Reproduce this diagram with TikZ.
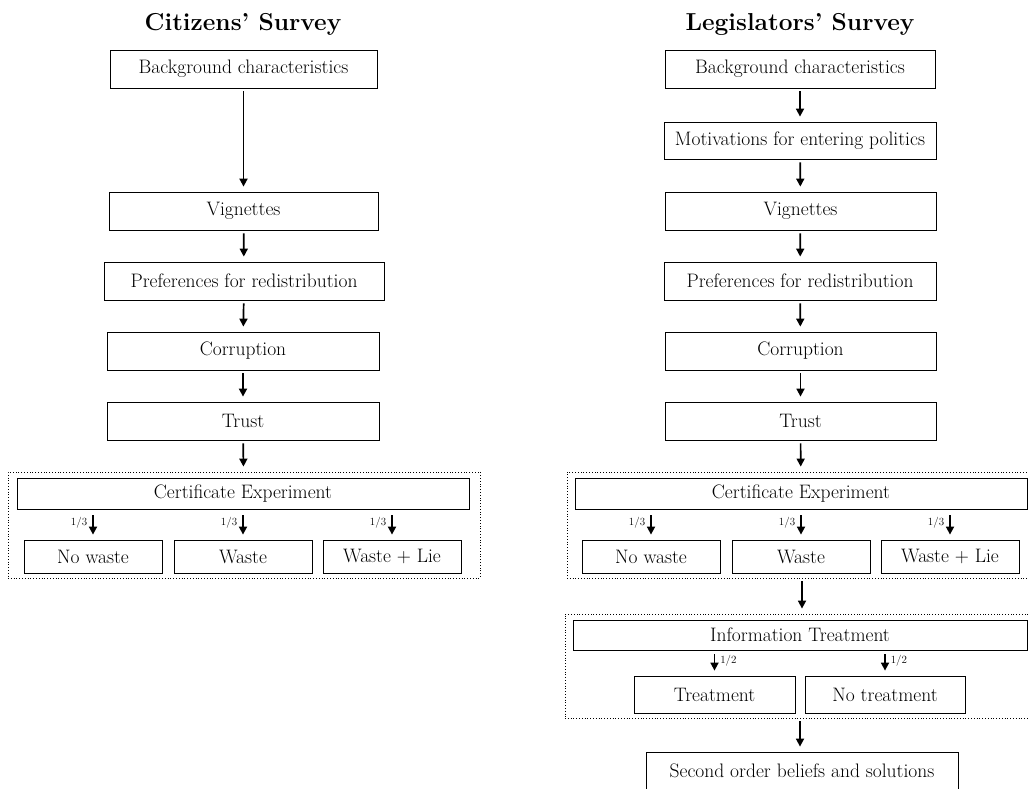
\documentclass[tikz,border=0pt]{standalone}
\usetikzlibrary{arrows.meta}
\begin{document}
\begin{tikzpicture}[x=1pt,y=-1pt,
  box/.style={draw,line width=0.8pt,minimum height=38pt,inner sep=0pt,font=\fontsize{19.5}{22}\selectfont},
  sbox/.style={box,minimum width=138pt,minimum height=33pt},
  dotbox/.style={draw,dotted,line width=0.8pt,inner sep=0pt},
  title/.style={font=\fontsize{24.5}{28}\selectfont\bfseries},
  arr/.style={-{Triangle[length=8pt,width=8pt]},line width=1.7pt,shorten <=3pt,shorten >=5pt},
  frac/.style={font=\fontsize{11}{12}\selectfont,inner sep=5pt}]
\useasboundingbox (0,0) rectangle (1029,788);
\clip (0,0) rectangle (1029,788);
% ---- left column
\node[title] (tL) at (243,24) {Citizens' Survey};
\node[box,minimum width=267pt] (bgL) at (243.5,69) {Background characteristics};
\node[box,minimum width=269pt] (vigL) at (243.5,211) {Vignettes};
\node[box,minimum width=280pt] (prefL) at (244,281) {Preferences for redistribution};
\node[box,minimum width=272pt] (corL) at (243,351) {Corruption};
\node[box,minimum width=272pt] (trL) at (243,421) {Trust};
\node[dotbox,minimum width=472pt,minimum height=106pt] (dL) at (244,525) {};
\node[box,minimum width=452pt,minimum height=31pt] (certL) at (243,493.5) {Certificate Experiment};
\node[sbox] (nwL) at (93,556.5) {No waste};
\node[sbox] (wL) at (243,556.5) {Waste};
\node[sbox] (wlL) at (392,556.5) {Waste + Lie};
\draw[arr] (bgL) -- (vigL);
\draw[arr] (vigL) -- (prefL);
\draw[arr] (prefL) -- (corL);
\draw[arr] (corL) -- (trL);
\draw[arr] (trL) -- (dL);
\foreach \n in {nwL,wL,wlL}{
  \draw[arr,shorten <=6pt] (certL.south -| \n.north) -- (\n.north)
    node[frac,pos=0.45,anchor=east] {1/3};
}
% ---- right column
\node[title] (tR) at (800,24) {Legislators' Survey};
\node[box,minimum width=270pt] (bgR) at (800,69) {Background characteristics};
\node[box,minimum width=272pt,minimum height=37pt] (motR) at (800,140.5) {Motivations for entering politics};
\node[box,minimum width=271pt] (vigR) at (800.5,211) {Vignettes};
\node[box,minimum width=272pt] (prefR) at (800,281) {Preferences for redistribution};
\node[box,minimum width=271pt] (corR) at (800.5,351) {Corruption};
\node[box,minimum width=271pt] (trR) at (800.5,421) {Trust};
\node[dotbox,minimum width=468pt,minimum height=106pt] (dR) at (801,525) {};
\node[box,minimum width=452pt,minimum height=31pt] (certR) at (801,493.5) {Certificate Experiment};
\node[sbox] (nwR) at (651,556.5) {No waste};
\node[sbox] (wR) at (801,556.5) {Waste};
\node[sbox] (wlR) at (950,556.5) {Waste + Lie};
\node[dotbox,minimum width=468pt,minimum height=104pt] (d2R) at (799,666) {};
\node[box,minimum width=454pt,minimum height=30pt] (infoR) at (800,635) {Information Treatment};
\node[box,minimum width=161pt,minimum height=37pt] (trtR) at (714.5,694.5) {Treatment};
\node[box,minimum width=160pt,minimum height=37pt] (ntrR) at (885,694.5) {No treatment};
\node[box,minimum width=312pt] (secR) at (802,771) {Second order beliefs and solutions};
\draw[arr] (bgR) -- (motR);
\draw[arr] (motR) -- (vigR);
\draw[arr] (vigR) -- (prefR);
\draw[arr] (prefR) -- (corR);
\draw[arr] (corR) -- (trR);
\draw[arr] (trR) -- (dR);
\foreach \n in {nwR,wR,wlR}{
  \draw[arr,shorten <=6pt] (certR.south -| \n.north) -- (\n.north)
    node[frac,pos=0.45,anchor=east] {1/3};
}
\draw[arr] (dR.south -| 802,0) -- (d2R.north -| 802,0);
\foreach \n in {trtR,ntrR}{
  \draw[arr,shorten <=4pt] (infoR.south -| \n.north) -- (\n.north)
    node[frac,pos=0.4,anchor=west] {1/2};
}
\draw[arr] (d2R.south -| 800,0) -- (secR.north -| 800,0);
\end{tikzpicture}
\end{document}
